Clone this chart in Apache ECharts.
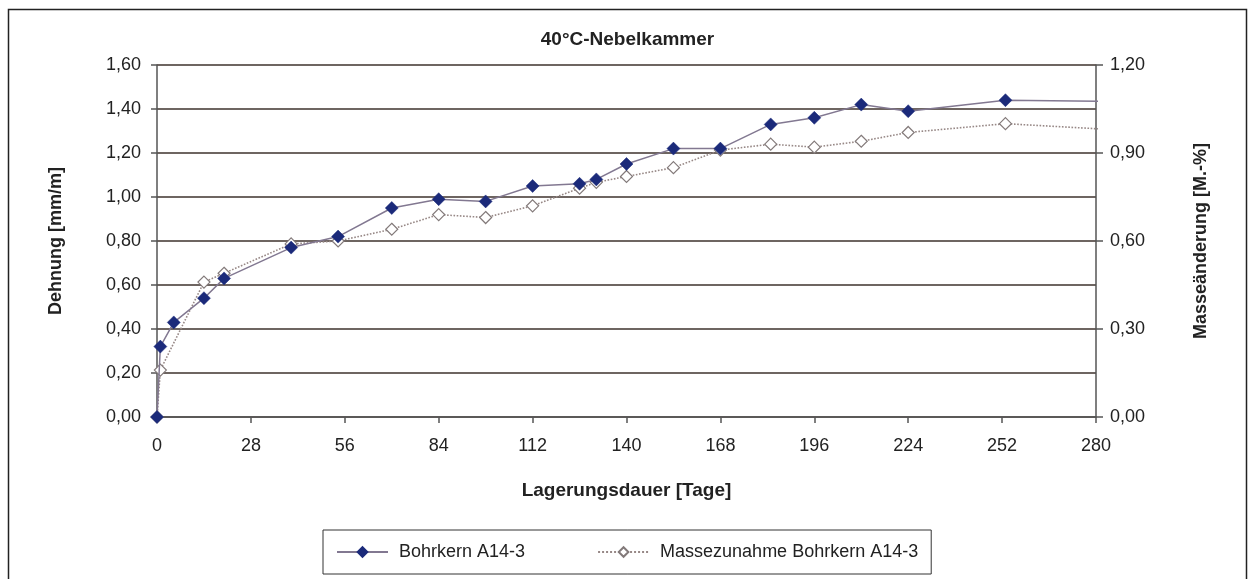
<!DOCTYPE html>
<html>
<head>
<meta charset="utf-8">
<script src="https://cdn.jsdelivr.net/npm/echarts@6/dist/echarts.min.js"></script>
<style>
  html, body { margin: 0; padding: 0; background: #fff; }
  #chart { width: 1255px; height: 579px; }
</style>
</head>
<body>
<div id="chart"></div>
<script>
// Dehnung (strain) of drill core A14-3, mm/m, against storage days
const dehnungDays   = [0, 1, 5, 14, 20, 40, 54, 70, 84, 98, 112, 126, 131, 140, 154, 168, 183, 196, 210, 224, 253, 308];
const dehnungValues = [0, 0.32, 0.43, 0.54, 0.63, 0.77, 0.82, 0.95, 0.99, 0.98, 1.05, 1.06, 1.08, 1.15, 1.22, 1.22, 1.33, 1.36, 1.42, 1.39, 1.44, 1.43];

// Mass gain of the same core, M.-%, against storage days
const masseDays   = [0, 1, 14, 20, 40, 54, 70, 84, 98, 112, 126, 131, 140, 154, 168, 183, 196, 210, 224, 253, 308];
const masseValues = [0, 0.16, 0.46, 0.49, 0.59, 0.60, 0.64, 0.69, 0.68, 0.72, 0.78, 0.80, 0.82, 0.85, 0.91, 0.93, 0.92, 0.94, 0.97, 1.00, 0.965];

const seriesNames = ['Bohrkern A14-3', 'Massezunahme Bohrkern A14-3'];
const chartTitle = '40°C-Nebelkammer';
const xAxisName = 'Lagerungsdauer [Tage]';
const yLeftName = 'Dehnung [mm/m]';
const yRightName = 'Masseänderung [M.-%]';

const FONT = "'Liberation Sans', Arial, sans-serif";
const TEXT = '#222';
const AXIS = '#555';

const pair = (xs, ys) => xs.map((x, i) => [x, ys[i]]);
const comma2 = v => v.toFixed(2).replace('.', ',');

const chart = echarts.init(document.getElementById('chart'), null, { renderer: 'canvas' });

chart.setOption({
  animation: false,
  backgroundColor: '#fff',
  textStyle: { fontFamily: FONT },
  title: {
    text: chartTitle,
    left: 'center',
    top: 25,
    textStyle: { fontFamily: FONT, fontSize: 19, fontWeight: 'bold', color: TEXT }
  },
  grid: { left: 157, right: 159, top: 65, bottom: 162 },
  xAxis: {
    type: 'value',
    min: 0, max: 280, interval: 28,
    name: xAxisName,
    nameLocation: 'middle',
    nameGap: 64,
    nameTextStyle: { fontFamily: FONT, fontSize: 19, fontWeight: 'bold', color: TEXT },
    axisLine: { show: true, onZero: false, lineStyle: { color: AXIS, width: 1.5 } },
    axisTick: { show: true, inside: false, length: 6, lineStyle: { color: AXIS, width: 1.5 } },
    axisLabel: { margin: 20, fontFamily: FONT, fontSize: 18, color: TEXT },
    splitLine: { show: false }
  },
  yAxis: [
    {
      type: 'value',
      min: 0, max: 1.6, interval: 0.2,
      name: yLeftName,
      nameLocation: 'middle',
      nameRotate: 90,
      nameGap: 92,
      nameTextStyle: { fontFamily: FONT, fontSize: 18, fontWeight: 'bold', color: TEXT },
      axisLine: { show: true, lineStyle: { color: AXIS, width: 1.5 } },
      axisTick: { show: true, inside: false, length: 6, lineStyle: { color: AXIS, width: 1.5 } },
      axisLabel: { margin: 16, fontFamily: FONT, fontSize: 18, color: TEXT, formatter: comma2 },
      splitLine: { show: true, lineStyle: { color: '#6e6561', width: 2 } }
    },
    {
      type: 'value',
      position: 'right',
      min: 0, max: 1.2, interval: 0.3,
      name: yRightName,
      nameLocation: 'middle',
      nameRotate: 90,
      nameGap: 96,
      nameTextStyle: { fontFamily: FONT, fontSize: 18, fontWeight: 'bold', color: TEXT },
      axisLine: { show: true, lineStyle: { color: AXIS, width: 1.5 } },
      axisTick: { show: true, inside: false, length: 7, lineStyle: { color: AXIS, width: 1.5 } },
      axisLabel: { margin: 14, fontFamily: FONT, fontSize: 18, color: TEXT, formatter: comma2 },
      splitLine: { show: false }
    }
  ],
  legend: {
    left: 323,
    top: 530,
    orient: 'horizontal',
    itemWidth: 51,
    itemHeight: 12,
    itemGap: 72,
    padding: [13, 13, 13, 13],
    borderColor: '#333',
    borderWidth: 1,
    backgroundColor: '#fff',
    textStyle: { fontFamily: FONT, fontSize: 18, color: TEXT, padding: [0, 0, 0, 6] },
    data: seriesNames
  },
  series: [
    {
      name: seriesNames[0],
      type: 'line',
      yAxisIndex: 0,
      z: 4,
      clip: true,
      data: pair(dehnungDays, dehnungValues),
      symbol: 'diamond',
      symbolSize: 13,
      itemStyle: { color: '#1b2a7a', borderColor: '#1b2a7a', borderWidth: 0.5 },
      lineStyle: { color: '#827891', width: 1.5 }
    },
    {
      name: seriesNames[1],
      type: 'line',
      yAxisIndex: 1,
      z: 3,
      clip: true,
      data: pair(masseDays, masseValues),
      symbol: 'diamond',
      symbolSize: 12,
      itemStyle: { color: '#ffffff', borderColor: '#837a7a', borderWidth: 1.2 },
      lineStyle: { color: '#978886', width: 1.6, type: 'dotted' }
    }
  ],
  graphic: [
    {
      type: 'rect',
      silent: true,
      z: -10,
      shape: { x: 8.5, y: 9.5, width: 1238, height: 600 },
      style: { fill: 'none', stroke: '#222', lineWidth: 1.5 }
    }
  ]
});
</script>
</body>
</html>
